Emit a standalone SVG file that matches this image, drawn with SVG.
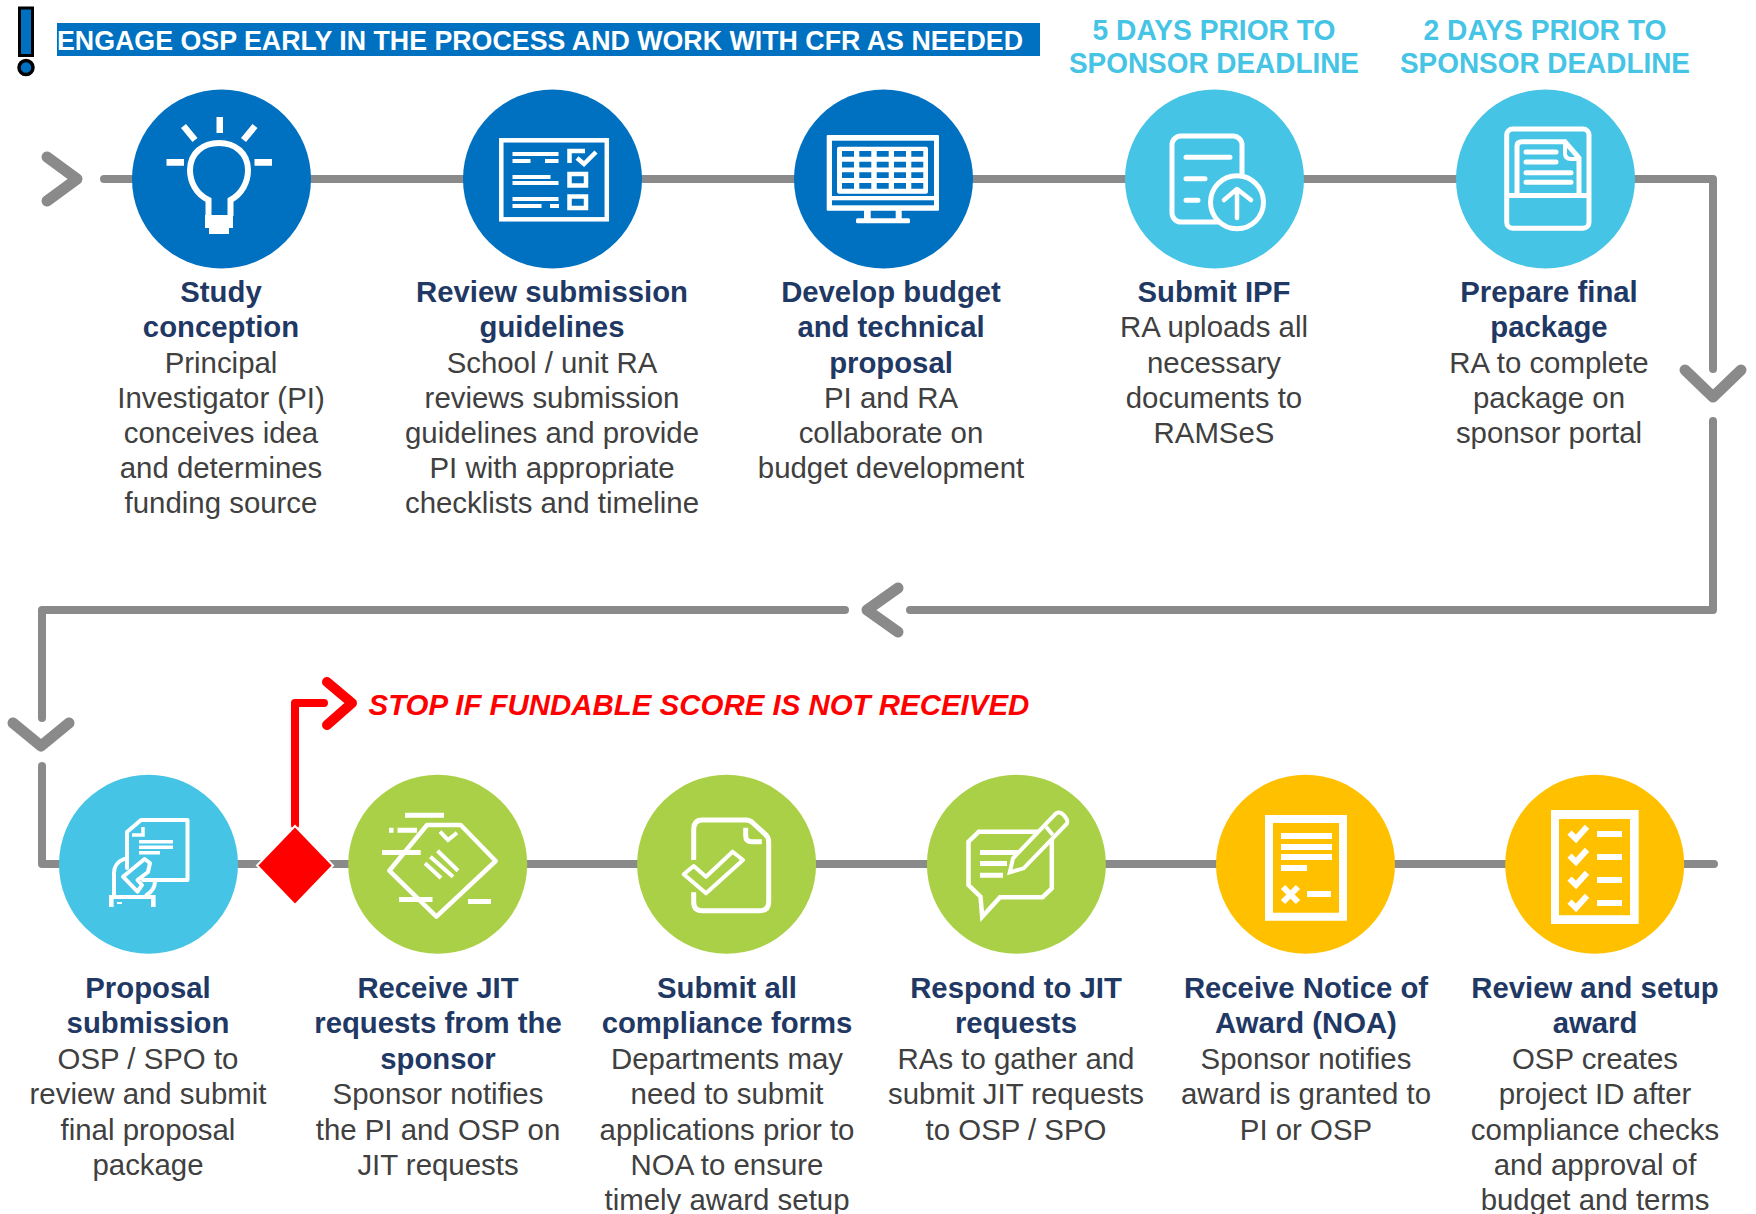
<svg xmlns="http://www.w3.org/2000/svg" width="1756" height="1214" viewBox="0 0 1756 1214">
<style>
text{font-family:"Liberation Sans",Arial,sans-serif;text-anchor:middle}
.t{font-size:29.3px;font-weight:700;fill:#1F3864}
.b{font-size:29.4px;fill:#404040}
.d{font-size:29px;font-weight:700;fill:#45C4E5}
.l{fill:none;stroke:#8A8A8A;stroke-width:8;stroke-linecap:round;stroke-linejoin:round}
.c{fill:none;stroke:#8A8A8A;stroke-width:11;stroke-linecap:round;stroke-linejoin:round}
.i{fill:none;stroke:#fff;stroke-width:5}
.r{fill:none;stroke:#fff;stroke-width:5;stroke-linecap:round;stroke-linejoin:round}
.f{fill:#fff}
</style>
<rect width="1756" height="1214" fill="#fff"/>
<g id="connectors">
<path class="l" d="M104 179H1713V369"/>
<path class="l" d="M1713 421V610H910"/>
<path class="l" d="M845 610H42V718"/>
<path class="l" d="M42 766V864H1714"/>
<path class="c" d="M47 157L77 179L47 201"/>
<path class="c" d="M1685 370L1713 397L1741 370"/>
<path class="c" d="M898 588L867 610L898 632"/>
<path class="c" d="M13 723L41 746L69 723"/>
<path d="M295 825V703H324" fill="none" stroke="#f00" stroke-width="8" stroke-linecap="round" stroke-linejoin="round"/>
<path d="M327 682L352 703L327 725" fill="none" stroke="#f00" stroke-width="10" stroke-linecap="round" stroke-linejoin="round"/>
</g>
<g id="alert"><rect x="19.5" y="8" width="13" height="47.5" fill="#0070C0" stroke="#000" stroke-width="3"/><circle cx="26" cy="67.5" r="7" fill="#0070C0" stroke="#000" stroke-width="3.5"/></g>
<g id="banner"><rect x="57" y="23" width="983" height="33" fill="#0070C0"/><text x="540" y="50" font-size="28" font-weight="700" fill="#fff" textLength="966" lengthAdjust="spacingAndGlyphs">ENGAGE OSP EARLY IN THE PROCESS AND WORK WITH CFR AS NEEDED</text></g>
<g id="deadline-5"><text class="d" x="1214" y="40" textLength="243" lengthAdjust="spacingAndGlyphs">5 DAYS PRIOR TO</text><text class="d" x="1214" y="73" textLength="290" lengthAdjust="spacingAndGlyphs">SPONSOR DEADLINE</text></g>
<g id="deadline-2"><text class="d" x="1545" y="40" textLength="243" lengthAdjust="spacingAndGlyphs">2 DAYS PRIOR TO</text><text class="d" x="1545" y="73" textLength="290" lengthAdjust="spacingAndGlyphs">SPONSOR DEADLINE</text></g>
<g id="stop"><text x="368.5" y="715" font-size="29.45" font-weight="700" font-style="italic" fill="#f00" style="text-anchor:start">STOP IF FUNDABLE SCORE IS NOT RECEIVED</text></g>

<g id="n1"><circle cx="221.5" cy="179" r="89.5" fill="#0070C0"/>
<path class="i" stroke-width="6" style="stroke-width:6" d="M208.5 216V200C196 194 190 182 190 170C190 153 203 143 219 143C235 143 248 153 248 170C248 182 242 194 230.5 200V216"/><path class="f" d="M205 215h28v13h-28zM209 228h20v6h-20z"/><path class="f" d="M216.5 117h6.5v16h-6.5zM166.5 159h17.500v6.700h-17.500zM254.500 159h17.500v6.700h-17.500z"/><path d="M183.500 126L195 140M255 126L243.500 140" fill="none" stroke="#fff" stroke-width="6.500"/>
<text class="t" x="221" y="302">Study</text><text class="t" x="221" y="337">conception</text><text class="b" x="221" y="373">Principal</text><text class="b" x="221" y="408">Investigator (PI)</text><text class="b" x="221" y="443">conceives idea</text><text class="b" x="221" y="478">and determines</text><text class="b" x="221" y="513">funding source</text></g>

<g id="n2"><circle cx="552.5" cy="179" r="89.5" fill="#0070C0"/>
<rect class="i" x="501.300" y="140.300" width="105.500" height="79" style="stroke-width:4.500"/><path class="f" d="M512.500 152h46v4h-46zM512.500 159h18v4h-18zM545 159h13.500v4h-13.500zM512.500 175h38v4h-38zM512.500 181h46v4h-46zM512.500 197h46v4h-46zM512.500 204h29v4h-29zM550 204h9v4h-9z"/><path class="i" style="stroke-width:4.500" d="M569.500 163V151H585M577 158l7 6 12-12"/><rect class="i" x="569.500" y="174" width="16.500" height="11.500" style="stroke-width:4.500"/><rect class="i" x="569.500" y="196.500" width="16.500" height="11.500" style="stroke-width:4.500"/>
<text class="t" x="552" y="302">Review submission</text><text class="t" x="552" y="337">guidelines</text><text class="b" x="552" y="373">School / unit RA</text><text class="b" x="552" y="408">reviews submission</text><text class="b" x="552" y="443">guidelines and provide</text><text class="b" x="552" y="478">PI with appropriate</text><text class="b" x="552" y="513">checklists and timeline</text></g>

<g id="n3"><circle cx="883.500" cy="179" r="89.500" fill="#0070C0"/>
<rect x="826.700" y="135" width="112.300" height="75.700" rx="1" fill="#fff"/><rect x="832" y="140.700" width="102" height="55.300" fill="#0070C0"/><rect x="837" y="146.700" width="91" height="47" rx="2" fill="#fff"/><rect x="832" y="200.300" width="102" height="5" fill="#0070C0"/><path class="f" d="M864 210h6.700v9h-6.700zM895.700 210h6v9h-6z"/><rect x="856" y="218.300" width="54" height="5" rx="1.500" fill="#fff"/><path fill="#0070C0" d="M842 151h12v5.700h-12zM859.300 151h12v5.700h-12zM876.700 151h12v5.700h-12zM894 151h12v5.700h-12zM911.300 151h12v5.700h-12zM842 161.700h12v5.700h-12zM859.300 161.700h12v5.700h-12zM876.700 161.700h12v5.700h-12zM894 161.700h12v5.700h-12zM911.300 161.700h12v5.700h-12zM842 172.300h12v5.700h-12zM859.300 172.300h12v5.700h-12zM876.700 172.300h12v5.700h-12zM894 172.300h12v5.700h-12zM911.300 172.300h12v5.700h-12zM842 183h12v5.700h-12zM859.300 183h12v5.700h-12zM876.700 183h12v5.700h-12zM894 183h12v5.700h-12zM911.300 183h12v5.700h-12z"/>
<text class="t" x="891" y="302">Develop budget</text><text class="t" x="891" y="337">and technical</text><text class="t" x="891" y="373">proposal</text><text class="b" x="891" y="408">PI and RA</text><text class="b" x="891" y="443">collaborate on</text><text class="b" x="891" y="478">budget development</text></g>

<g id="n4"><circle cx="1214.500" cy="179" r="89.500" fill="#45C4E5"/>
<rect class="i" x="1172" y="136" width="70" height="86" rx="9"/><path class="r" d="M1186 157.300h44M1186 178.700h19M1186 200.300h12"/><circle cx="1237" cy="202.300" r="26.500" fill="#45C4E5" stroke="#fff" stroke-width="5"/><path class="r" style="stroke-width:4.500" d="M1237 218V190M1224 200L1237 189L1251 200"/>
<text class="t" x="1214" y="302">Submit IPF</text><text class="b" x="1214" y="337">RA uploads all</text><text class="b" x="1214" y="373">necessary</text><text class="b" x="1214" y="408">documents to</text><text class="b" x="1214" y="443">RAMSeS</text></g>

<g id="n5"><circle cx="1545.500" cy="179" r="89.500" fill="#45C4E5"/>
<rect class="i" x="1506.700" y="129" width="82.300" height="99.300" rx="6"/><path class="i" d="M1507 195.500h82"/><path class="i" d="M1517 195V146Q1517 141.700 1522 141.700H1565L1579 158V195"/><path class="i" style="stroke-width:4" d="M1565 142V153Q1565 159 1571 159H1580"/><path class="r" d="M1526 152h30M1526 162h30M1526 172.700h45M1526 182.300h45"/>
<text class="t" x="1549" y="302">Prepare final</text><text class="t" x="1549" y="337">package</text><text class="b" x="1549" y="373">RA to complete</text><text class="b" x="1549" y="408">package on</text><text class="b" x="1549" y="443">sponsor portal</text></g>

<g id="n6"><circle cx="148.500" cy="864.300" r="89.500" fill="#45C4E5"/>
<path class="r" style="stroke-width:4" d="M127 868V832L141 820H187.500V880H143"/><path class="i" style="stroke-width:3.500" d="M132 835H143V827"/><path class="f" d="M139 840h34v3.500h-34zM139 845.500h34v3.500h-34zM139 851h21v3.500h-21z"/><path class="r" style="stroke-width:4" d="M124 859Q114 863 114 873V897"/><path d="M123 876.700L144.600 859L150 863L148 872L137.500 880L142 885L137.500 891.700Z" fill="#45C4E5" stroke="#fff" stroke-width="4" stroke-linejoin="round"/><path class="r" style="stroke-width:4" d="M155 881Q155 890 146.500 895"/><path class="f" d="M109 895h46v4h-46zM109 895h4.600v12h-4.600zM151 895h4.600v12h-4.600zM117 902h5v2h-5z"/>
<text class="t" x="148" y="998">Proposal</text><text class="t" x="148" y="1033">submission</text><text class="b" x="148" y="1069">OSP / SPO to</text><text class="b" x="148" y="1104">review and submit</text><text class="b" x="148" y="1140">final proposal</text><text class="b" x="148" y="1175">package</text></g>

<g id="decision"><path d="M295 826L333 865.500L295 905L257 865.500Z" fill="#f00" stroke="#fff" stroke-width="2"/></g>

<g id="n7"><circle cx="437.700" cy="864.300" r="89.500" fill="#A9D046"/>
<path class="r" style="stroke-width:4.500" d="M389.300 870.700L427 825H460.700L495.700 861L436.400 916.700Z"/><path class="f" d="M405 812.700h39v5h-39zM389 827.700h4.600v5h-4.600zM397.500 827.700h19.500v5h-19.500zM382 850h38.700v5h-38.700zM399 897h33.500v5h-33.500zM468 899h23v5h-23z"/><path class="i" style="stroke-width:4" d="M440 831.700L448 840L457 832.700M425 863.300L441 878M430.400 856.700L453 876.700M437.500 850.700L458 870.700"/>
<text class="t" x="438" y="998">Receive JIT</text><text class="t" x="438" y="1033">requests from the</text><text class="t" x="438" y="1069">sponsor</text><text class="b" x="438" y="1104">Sponsor notifies</text><text class="b" x="438" y="1140">the PI and OSP on</text><text class="b" x="438" y="1175">JIT requests</text></g>

<g id="n8"><circle cx="726.600" cy="864.300" r="89.500" fill="#A9D046"/>
<path class="i" d="M693.700 860V830Q693.700 820 702 820H746Q750 820 753 823L765 834Q768.700 837 768.700 842V902Q768.700 910.700 760 910.700H702Q693.700 910.700 693.700 902V892.300"/><path class="i" d="M745.700 827.700V836Q745.700 841.700 752 841.700H761.800"/><path class="r" style="stroke-width:4" d="M683.700 874.300L693.700 866L706 876.700L732.600 851.700L743 860L706 893.300Z"/>
<text class="t" x="727" y="998">Submit all</text><text class="t" x="727" y="1033">compliance forms</text><text class="b" x="727" y="1069">Departments may</text><text class="b" x="727" y="1104">need to submit</text><text class="b" x="727" y="1140">applications prior to</text><text class="b" x="727" y="1175">NOA to ensure</text><text class="b" x="727" y="1210">timely award setup</text></g>

<g id="n9"><circle cx="1016.400" cy="864.300" r="89.500" fill="#A9D046"/>
<path class="i" style="stroke-width:4.500" d="M1039 831.700H978.800L968.500 841.700V885L980.500 896.700L982.200 916.700L1000 897.300H1042.500L1051.800 888.300V838.300"/><path class="f" d="M980 850h38v5h-38zM980 861h27v5h-27zM980 872.700h23v5h-23z"/><path d="M1009.800 872.300L1013 858.300L1056 813.300Q1061 810 1066.600 819Q1068 822 1066.600 824L1023.600 868.300Z" fill="#A9D046" stroke="#fff" stroke-width="4"/><path class="i" style="stroke-width:4" d="M1046 826.700L1052.800 835"/>
<text class="t" x="1016" y="998">Respond to JIT</text><text class="t" x="1016" y="1033">requests</text><text class="b" x="1016" y="1069">RAs to gather and</text><text class="b" x="1016" y="1104">submit JIT requests</text><text class="b" x="1016" y="1140">to OSP / SPO</text></g>

<g id="n10"><circle cx="1305.500" cy="864.300" r="89.500" fill="#FFC000"/>
<path class="f" fill-rule="evenodd" d="M1265 815h82v105.700h-82zM1273 823v89.700h66v-89.700z"/><path class="f" d="M1281 833h51v6h-51zM1281 844h51v6h-51zM1281 854h51v6h-51zM1281 865h26v6h-26zM1307 891h24v6h-24z"/><path d="M1283 887L1298 902M1298 887L1283 902" stroke="#fff" stroke-width="6"/>
<text class="t" x="1306" y="998">Receive Notice of</text><text class="t" x="1306" y="1033">Award (NOA)</text><text class="b" x="1306" y="1069">Sponsor notifies</text><text class="b" x="1306" y="1104">award is granted to</text><text class="b" x="1306" y="1140">PI or OSP</text></g>

<g id="n11"><circle cx="1594.700" cy="864.300" r="89.500" fill="#FFC000"/>
<path class="f" fill-rule="evenodd" d="M1551 810h87.700v114h-87.700zM1559 819v96.300h71v-96.300z"/><path class="f" d="M1597 831h25v6h-25zM1597 854h25v6h-25zM1597 877h25v6h-25zM1597 900h25v6h-25z"/><path d="M1569.500 832.700L1576 839L1587 826.700M1569.500 855.700L1576 862L1587 849.700M1569.500 878.700L1576 885L1587 872.700M1569.500 901.700L1576 908L1587 895.700" fill="none" stroke="#fff" stroke-width="6"/>
<text class="t" x="1595" y="998">Review and setup</text><text class="t" x="1595" y="1033">award</text><text class="b" x="1595" y="1069">OSP creates</text><text class="b" x="1595" y="1104">project ID after</text><text class="b" x="1595" y="1140">compliance checks</text><text class="b" x="1595" y="1175">and approval of</text><text class="b" x="1595" y="1210">budget and terms</text></g>
</svg>
